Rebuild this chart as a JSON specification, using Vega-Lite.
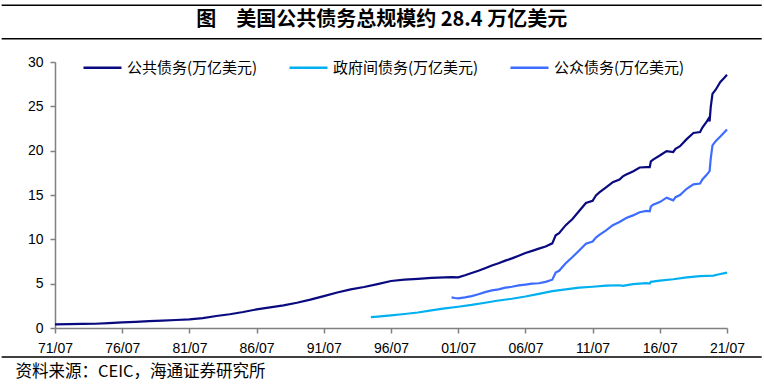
{
  "$schema": "https://vega.github.io/schema/vega-lite/v6.json",
  "width": 672,
  "height": 266,
  "autosize": {"type": "pad"},
  "padding": {"left": 0, "top": 4, "right": 0, "bottom": 0},
  "background": "white",
  "title": {
    "text": "图　美国公共债务总规模约 28.4 万亿美元",
    "font": "Noto Sans CJK SC",
    "fontSize": 20,
    "fontWeight": "bold",
    "color": "#000000",
    "anchor": "middle",
    "frame": "bounds",
    "offset": -26
  },
  "config": {
    "view": {"stroke": null},
    "axis": {
      "grid": false,
      "domainColor": "#808080",
      "domainWidth": 1.5,
      "tickColor": "#808080",
      "tickWidth": 1.5,
      "tickSize": 5,
      "labelFont": "Liberation Sans",
      "labelFontSize": 14,
      "labelColor": "#000000"
    },
    "legend": {
      "orient": "none",
      "legendX": 27,
      "legendY": -15,
      "direction": "horizontal",
      "symbolType": "stroke",
      "symbolSize": 1444,
      "symbolStrokeWidth": 2.5,
      "labelFont": "Noto Sans CJK SC",
      "labelFontSize": 15,
      "labelColor": "#000000",
      "labelOffset": 4,
      "columnPadding": 26,
      "title": null
    }
  },
  "datasets": {
    "debt": [
      {"date": "1971-07-01", "value": 0.42, "series": "公共债务(万亿美元)"},
      {"date": "1972-07-01", "value": 0.44, "series": "公共债务(万亿美元)"},
      {"date": "1973-07-01", "value": 0.46, "series": "公共债务(万亿美元)"},
      {"date": "1974-07-01", "value": 0.48, "series": "公共债务(万亿美元)"},
      {"date": "1975-07-01", "value": 0.56, "series": "公共债务(万亿美元)"},
      {"date": "1976-07-01", "value": 0.64, "series": "公共债务(万亿美元)"},
      {"date": "1977-07-01", "value": 0.70, "series": "公共债务(万亿美元)"},
      {"date": "1978-07-01", "value": 0.78, "series": "公共债务(万亿美元)"},
      {"date": "1979-07-01", "value": 0.83, "series": "公共债务(万亿美元)"},
      {"date": "1980-07-01", "value": 0.90, "series": "公共债务(万亿美元)"},
      {"date": "1981-07-01", "value": 0.98, "series": "公共债务(万亿美元)"},
      {"date": "1982-07-01", "value": 1.12, "series": "公共债务(万亿美元)"},
      {"date": "1983-07-01", "value": 1.35, "series": "公共债务(万亿美元)"},
      {"date": "1984-07-01", "value": 1.55, "series": "公共债务(万亿美元)"},
      {"date": "1985-07-01", "value": 1.80, "series": "公共债务(万亿美元)"},
      {"date": "1986-07-01", "value": 2.10, "series": "公共债务(万亿美元)"},
      {"date": "1987-07-01", "value": 2.33, "series": "公共债务(万亿美元)"},
      {"date": "1988-07-01", "value": 2.56, "series": "公共债务(万亿美元)"},
      {"date": "1989-07-01", "value": 2.85, "series": "公共债务(万亿美元)"},
      {"date": "1990-07-01", "value": 3.20, "series": "公共债务(万亿美元)"},
      {"date": "1991-07-01", "value": 3.60, "series": "公共债务(万亿美元)"},
      {"date": "1992-07-01", "value": 4.00, "series": "公共债务(万亿美元)"},
      {"date": "1993-07-01", "value": 4.35, "series": "公共债务(万亿美元)"},
      {"date": "1994-07-01", "value": 4.62, "series": "公共债务(万亿美元)"},
      {"date": "1995-07-01", "value": 4.95, "series": "公共债务(万亿美元)"},
      {"date": "1996-07-01", "value": 5.30, "series": "公共债务(万亿美元)"},
      {"date": "1997-07-01", "value": 5.45, "series": "公共债务(万亿美元)"},
      {"date": "1998-07-01", "value": 5.55, "series": "公共债务(万亿美元)"},
      {"date": "1999-07-01", "value": 5.65, "series": "公共债务(万亿美元)"},
      {"date": "2000-07-01", "value": 5.70, "series": "公共债务(万亿美元)"},
      {"date": "2001-01-01", "value": 5.74, "series": "公共债务(万亿美元)"},
      {"date": "2001-07-01", "value": 5.72, "series": "公共债务(万亿美元)"},
      {"date": "2002-01-01", "value": 5.95, "series": "公共债务(万亿美元)"},
      {"date": "2002-07-01", "value": 6.20, "series": "公共债务(万亿美元)"},
      {"date": "2003-01-01", "value": 6.45, "series": "公共债务(万亿美元)"},
      {"date": "2003-07-01", "value": 6.75, "series": "公共债务(万亿美元)"},
      {"date": "2004-01-01", "value": 7.05, "series": "公共债务(万亿美元)"},
      {"date": "2004-07-01", "value": 7.30, "series": "公共债务(万亿美元)"},
      {"date": "2005-01-01", "value": 7.60, "series": "公共债务(万亿美元)"},
      {"date": "2005-07-01", "value": 7.85, "series": "公共债务(万亿美元)"},
      {"date": "2006-01-01", "value": 8.15, "series": "公共债务(万亿美元)"},
      {"date": "2006-07-01", "value": 8.45, "series": "公共债务(万亿美元)"},
      {"date": "2007-01-01", "value": 8.70, "series": "公共债务(万亿美元)"},
      {"date": "2007-07-01", "value": 8.95, "series": "公共债务(万亿美元)"},
      {"date": "2008-01-01", "value": 9.20, "series": "公共债务(万亿美元)"},
      {"date": "2008-07-01", "value": 9.55, "series": "公共债务(万亿美元)"},
      {"date": "2008-10-01", "value": 10.45, "series": "公共债务(万亿美元)"},
      {"date": "2009-01-01", "value": 10.70, "series": "公共债务(万亿美元)"},
      {"date": "2009-07-01", "value": 11.60, "series": "公共债务(万亿美元)"},
      {"date": "2010-01-01", "value": 12.30, "series": "公共债务(万亿美元)"},
      {"date": "2010-07-01", "value": 13.20, "series": "公共债务(万亿美元)"},
      {"date": "2011-01-01", "value": 14.10, "series": "公共债务(万亿美元)"},
      {"date": "2011-07-01", "value": 14.35, "series": "公共债务(万亿美元)"},
      {"date": "2011-10-01", "value": 14.95, "series": "公共债务(万亿美元)"},
      {"date": "2012-01-01", "value": 15.30, "series": "公共债务(万亿美元)"},
      {"date": "2012-07-01", "value": 15.85, "series": "公共债务(万亿美元)"},
      {"date": "2013-01-01", "value": 16.45, "series": "公共债务(万亿美元)"},
      {"date": "2013-07-01", "value": 16.74, "series": "公共债务(万亿美元)"},
      {"date": "2013-10-01", "value": 17.10, "series": "公共债务(万亿美元)"},
      {"date": "2014-01-01", "value": 17.30, "series": "公共债务(万亿美元)"},
      {"date": "2014-07-01", "value": 17.65, "series": "公共债务(万亿美元)"},
      {"date": "2015-01-01", "value": 18.10, "series": "公共债务(万亿美元)"},
      {"date": "2015-07-01", "value": 18.15, "series": "公共债务(万亿美元)"},
      {"date": "2015-10-01", "value": 18.15, "series": "公共债务(万亿美元)"},
      {"date": "2015-11-01", "value": 18.80, "series": "公共债务(万亿美元)"},
      {"date": "2016-01-01", "value": 19.00, "series": "公共债务(万亿美元)"},
      {"date": "2016-07-01", "value": 19.45, "series": "公共债务(万亿美元)"},
      {"date": "2017-01-01", "value": 19.95, "series": "公共债务(万亿美元)"},
      {"date": "2017-07-01", "value": 19.85, "series": "公共债务(万亿美元)"},
      {"date": "2017-09-01", "value": 20.20, "series": "公共债务(万亿美元)"},
      {"date": "2018-01-01", "value": 20.50, "series": "公共债务(万亿美元)"},
      {"date": "2018-07-01", "value": 21.30, "series": "公共债务(万亿美元)"},
      {"date": "2019-01-01", "value": 22.00, "series": "公共债务(万亿美元)"},
      {"date": "2019-07-01", "value": 22.10, "series": "公共债务(万亿美元)"},
      {"date": "2019-09-01", "value": 22.60, "series": "公共债务(万亿美元)"},
      {"date": "2020-01-01", "value": 23.30, "series": "公共债务(万亿美元)"},
      {"date": "2020-02-15", "value": 23.60, "series": "公共债务(万亿美元)"},
      {"date": "2020-03-15", "value": 23.30, "series": "公共债务(万亿美元)"},
      {"date": "2020-04-15", "value": 24.90, "series": "公共债务(万亿美元)"},
      {"date": "2020-06-01", "value": 26.40, "series": "公共债务(万亿美元)"},
      {"date": "2020-09-01", "value": 26.90, "series": "公共债务(万亿美元)"},
      {"date": "2021-01-01", "value": 27.75, "series": "公共债务(万亿美元)"},
      {"date": "2021-04-01", "value": 28.15, "series": "公共债务(万亿美元)"},
      {"date": "2021-07-01", "value": 28.55, "series": "公共债务(万亿美元)"},

      {"date": "1995-01-01", "value": 1.22, "series": "政府间债务(万亿美元)"},
      {"date": "1995-07-01", "value": 1.28, "series": "政府间债务(万亿美元)"},
      {"date": "1996-07-01", "value": 1.42, "series": "政府间债务(万亿美元)"},
      {"date": "1997-07-01", "value": 1.58, "series": "政府间债务(万亿美元)"},
      {"date": "1998-07-01", "value": 1.75, "series": "政府间债务(万亿美元)"},
      {"date": "1999-07-01", "value": 1.98, "series": "政府间债务(万亿美元)"},
      {"date": "2000-07-01", "value": 2.22, "series": "政府间债务(万亿美元)"},
      {"date": "2001-07-01", "value": 2.40, "series": "政府间债务(万亿美元)"},
      {"date": "2002-07-01", "value": 2.60, "series": "政府间债务(万亿美元)"},
      {"date": "2003-07-01", "value": 2.85, "series": "政府间债务(万亿美元)"},
      {"date": "2004-07-01", "value": 3.10, "series": "政府间债务(万亿美元)"},
      {"date": "2005-07-01", "value": 3.30, "series": "政府间债务(万亿美元)"},
      {"date": "2006-07-01", "value": 3.55, "series": "政府间债务(万亿美元)"},
      {"date": "2007-07-01", "value": 3.85, "series": "政府间债务(万亿美元)"},
      {"date": "2008-07-01", "value": 4.15, "series": "政府间债务(万亿美元)"},
      {"date": "2009-07-01", "value": 4.35, "series": "政府间债务(万亿美元)"},
      {"date": "2010-07-01", "value": 4.55, "series": "政府间债务(万亿美元)"},
      {"date": "2011-07-01", "value": 4.65, "series": "政府间债务(万亿美元)"},
      {"date": "2012-07-01", "value": 4.78, "series": "政府间债务(万亿美元)"},
      {"date": "2013-07-01", "value": 4.82, "series": "政府间债务(万亿美元)"},
      {"date": "2013-10-01", "value": 4.75, "series": "政府间债务(万亿美元)"},
      {"date": "2014-07-01", "value": 4.95, "series": "政府间债务(万亿美元)"},
      {"date": "2015-07-01", "value": 5.05, "series": "政府间债务(万亿美元)"},
      {"date": "2015-10-01", "value": 5.02, "series": "政府间债务(万亿美元)"},
      {"date": "2015-11-01", "value": 5.20, "series": "政府间债务(万亿美元)"},
      {"date": "2016-07-01", "value": 5.35, "series": "政府间债务(万亿美元)"},
      {"date": "2017-07-01", "value": 5.50, "series": "政府间债务(万亿美元)"},
      {"date": "2018-07-01", "value": 5.70, "series": "政府间债务(万亿美元)"},
      {"date": "2019-07-01", "value": 5.85, "series": "政府间债务(万亿美元)"},
      {"date": "2020-07-01", "value": 5.90, "series": "政府间债务(万亿美元)"},
      {"date": "2020-10-01", "value": 6.00, "series": "政府间债务(万亿美元)"},
      {"date": "2021-07-01", "value": 6.25, "series": "政府间债务(万亿美元)"},

      {"date": "2001-01-01", "value": 3.45, "series": "公众债务(万亿美元)"},
      {"date": "2001-04-01", "value": 3.38, "series": "公众债务(万亿美元)"},
      {"date": "2001-07-01", "value": 3.35, "series": "公众债务(万亿美元)"},
      {"date": "2002-01-01", "value": 3.45, "series": "公众债务(万亿美元)"},
      {"date": "2002-07-01", "value": 3.60, "series": "公众债务(万亿美元)"},
      {"date": "2003-01-01", "value": 3.80, "series": "公众债务(万亿美元)"},
      {"date": "2003-07-01", "value": 4.05, "series": "公众债务(万亿美元)"},
      {"date": "2004-01-01", "value": 4.25, "series": "公众债务(万亿美元)"},
      {"date": "2004-07-01", "value": 4.35, "series": "公众债务(万亿美元)"},
      {"date": "2005-01-01", "value": 4.55, "series": "公众债务(万亿美元)"},
      {"date": "2005-07-01", "value": 4.65, "series": "公众债务(万亿美元)"},
      {"date": "2006-01-01", "value": 4.80, "series": "公众债务(万亿美元)"},
      {"date": "2006-07-01", "value": 4.90, "series": "公众债务(万亿美元)"},
      {"date": "2007-01-01", "value": 5.00, "series": "公众债务(万亿美元)"},
      {"date": "2007-07-01", "value": 5.05, "series": "公众债务(万亿美元)"},
      {"date": "2008-01-01", "value": 5.20, "series": "公众债务(万亿美元)"},
      {"date": "2008-07-01", "value": 5.45, "series": "公众债务(万亿美元)"},
      {"date": "2008-10-01", "value": 6.25, "series": "公众债务(万亿美元)"},
      {"date": "2009-01-01", "value": 6.45, "series": "公众债务(万亿美元)"},
      {"date": "2009-07-01", "value": 7.30, "series": "公众债务(万亿美元)"},
      {"date": "2010-01-01", "value": 8.00, "series": "公众债务(万亿美元)"},
      {"date": "2010-07-01", "value": 8.75, "series": "公众债务(万亿美元)"},
      {"date": "2011-01-01", "value": 9.50, "series": "公众债务(万亿美元)"},
      {"date": "2011-07-01", "value": 9.75, "series": "公众债务(万亿美元)"},
      {"date": "2011-10-01", "value": 10.20, "series": "公众债务(万亿美元)"},
      {"date": "2012-01-01", "value": 10.50, "series": "公众债务(万亿美元)"},
      {"date": "2012-07-01", "value": 11.00, "series": "公众债务(万亿美元)"},
      {"date": "2013-01-01", "value": 11.60, "series": "公众债务(万亿美元)"},
      {"date": "2013-07-01", "value": 11.95, "series": "公众债务(万亿美元)"},
      {"date": "2014-01-01", "value": 12.40, "series": "公众债务(万亿美元)"},
      {"date": "2014-07-01", "value": 12.70, "series": "公众债务(万亿美元)"},
      {"date": "2015-01-01", "value": 13.05, "series": "公众债务(万亿美元)"},
      {"date": "2015-07-01", "value": 13.20, "series": "公众债务(万亿美元)"},
      {"date": "2015-10-01", "value": 13.15, "series": "公众债务(万亿美元)"},
      {"date": "2015-11-01", "value": 13.70, "series": "公众债务(万亿美元)"},
      {"date": "2016-01-01", "value": 13.90, "series": "公众债务(万亿美元)"},
      {"date": "2016-07-01", "value": 14.20, "series": "公众债务(万亿美元)"},
      {"date": "2017-01-01", "value": 14.70, "series": "公众债务(万亿美元)"},
      {"date": "2017-07-01", "value": 14.40, "series": "公众债务(万亿美元)"},
      {"date": "2017-09-01", "value": 14.75, "series": "公众债务(万亿美元)"},
      {"date": "2018-01-01", "value": 15.00, "series": "公众债务(万亿美元)"},
      {"date": "2018-07-01", "value": 15.70, "series": "公众债务(万亿美元)"},
      {"date": "2019-01-01", "value": 16.20, "series": "公众债务(万亿美元)"},
      {"date": "2019-07-01", "value": 16.30, "series": "公众债务(万亿美元)"},
      {"date": "2019-09-01", "value": 16.75, "series": "公众债务(万亿美元)"},
      {"date": "2020-01-01", "value": 17.30, "series": "公众债务(万亿美元)"},
      {"date": "2020-03-15", "value": 17.70, "series": "公众债务(万亿美元)"},
      {"date": "2020-04-15", "value": 19.10, "series": "公众债务(万亿美元)"},
      {"date": "2020-06-01", "value": 20.60, "series": "公众债务(万亿美元)"},
      {"date": "2020-09-01", "value": 21.10, "series": "公众债务(万亿美元)"},
      {"date": "2021-01-01", "value": 21.60, "series": "公众债务(万亿美元)"},
      {"date": "2021-04-01", "value": 22.00, "series": "公众债务(万亿美元)"},
      {"date": "2021-07-01", "value": 22.40, "series": "公众债务(万亿美元)"}
    ]
  },
  "layer": [
    {
      "data": {"values": [{}]},
      "mark": {"type": "rule", "color": "#000000", "strokeWidth": 1.5, "clip": false},
      "encoding": {
        "x": {"datum": {"year": 1967, "month": 7, "date": 12}, "type": "temporal"},
        "x2": {"datum": {"year": 2024, "month": 1, "date": 30}},
        "y": {"datum": 36.41, "type": "quantitative"}
      }
    },
    {
      "data": {"values": [{}]},
      "mark": {"type": "rule", "color": "#000000", "strokeWidth": 1.5, "clip": false},
      "encoding": {
        "x": {"datum": {"year": 1967, "month": 7, "date": 12}, "type": "temporal"},
        "x2": {"datum": {"year": 2024, "month": 1, "date": 30}},
        "y": {"datum": 32.62, "type": "quantitative"}
      }
    },
    {
      "data": {"values": [{}]},
      "mark": {"type": "rule", "color": "#000000", "strokeWidth": 1.5, "clip": false},
      "encoding": {
        "x": {"datum": {"year": 1967, "month": 7, "date": 12}, "type": "temporal"},
        "x2": {"datum": {"year": 2024, "month": 1, "date": 30}},
        "y": {"datum": -3.27, "type": "quantitative"}
      }
    },
    {
      "data": {"name": "debt"},
      "mark": {"type": "line", "strokeWidth": 2.2, "clip": false},
      "encoding": {
        "x": {
          "field": "date",
          "type": "temporal",
          "scale": {"domain": [{"year": 1971, "month": 7, "date": 1}, {"year": 2021, "month": 7, "date": 1}], "nice": false},
          "axis": {
            "values": [
              {"year": 1971, "month": 7, "date": 1}, {"year": 1976, "month": 7, "date": 1},
              {"year": 1981, "month": 7, "date": 1}, {"year": 1986, "month": 7, "date": 1},
              {"year": 1991, "month": 7, "date": 1}, {"year": 1996, "month": 7, "date": 1},
              {"year": 2001, "month": 7, "date": 1}, {"year": 2006, "month": 7, "date": 1},
              {"year": 2011, "month": 7, "date": 1}, {"year": 2016, "month": 7, "date": 1},
              {"year": 2021, "month": 7, "date": 1}
            ],
            "format": "%y/%m",
            "labelPadding": 8,
            "labelFlush": false,
            "labelOverlap": false,
            "title": "资料来源：CEIC，海通证券研究所",
            "titleFont": "Noto Sans CJK SC",
            "titleFontSize": 16.5,
            "titleFontWeight": "normal",
            "titleColor": "#000000",
            "titleAnchor": "start",
            "titleAlign": "left",
            "titleBaseline": "alphabetic",
            "titleX": -40,
            "titleY": 48
          }
        },
        "y": {
          "field": "value",
          "type": "quantitative",
          "scale": {"domain": [0, 30], "nice": false},
          "axis": {"values": [0, 5, 10, 15, 20, 25, 30], "title": null, "labelPadding": 7}
        },
        "color": {
          "field": "series",
          "type": "nominal",
          "scale": {
            "domain": ["公共债务(万亿美元)", "政府间债务(万亿美元)", "公众债务(万亿美元)"],
            "range": ["#0a0a80", "#00b0f0", "#3d6cff"]
          },
          "legend": {}
        }
      }
    }
  ]
}
